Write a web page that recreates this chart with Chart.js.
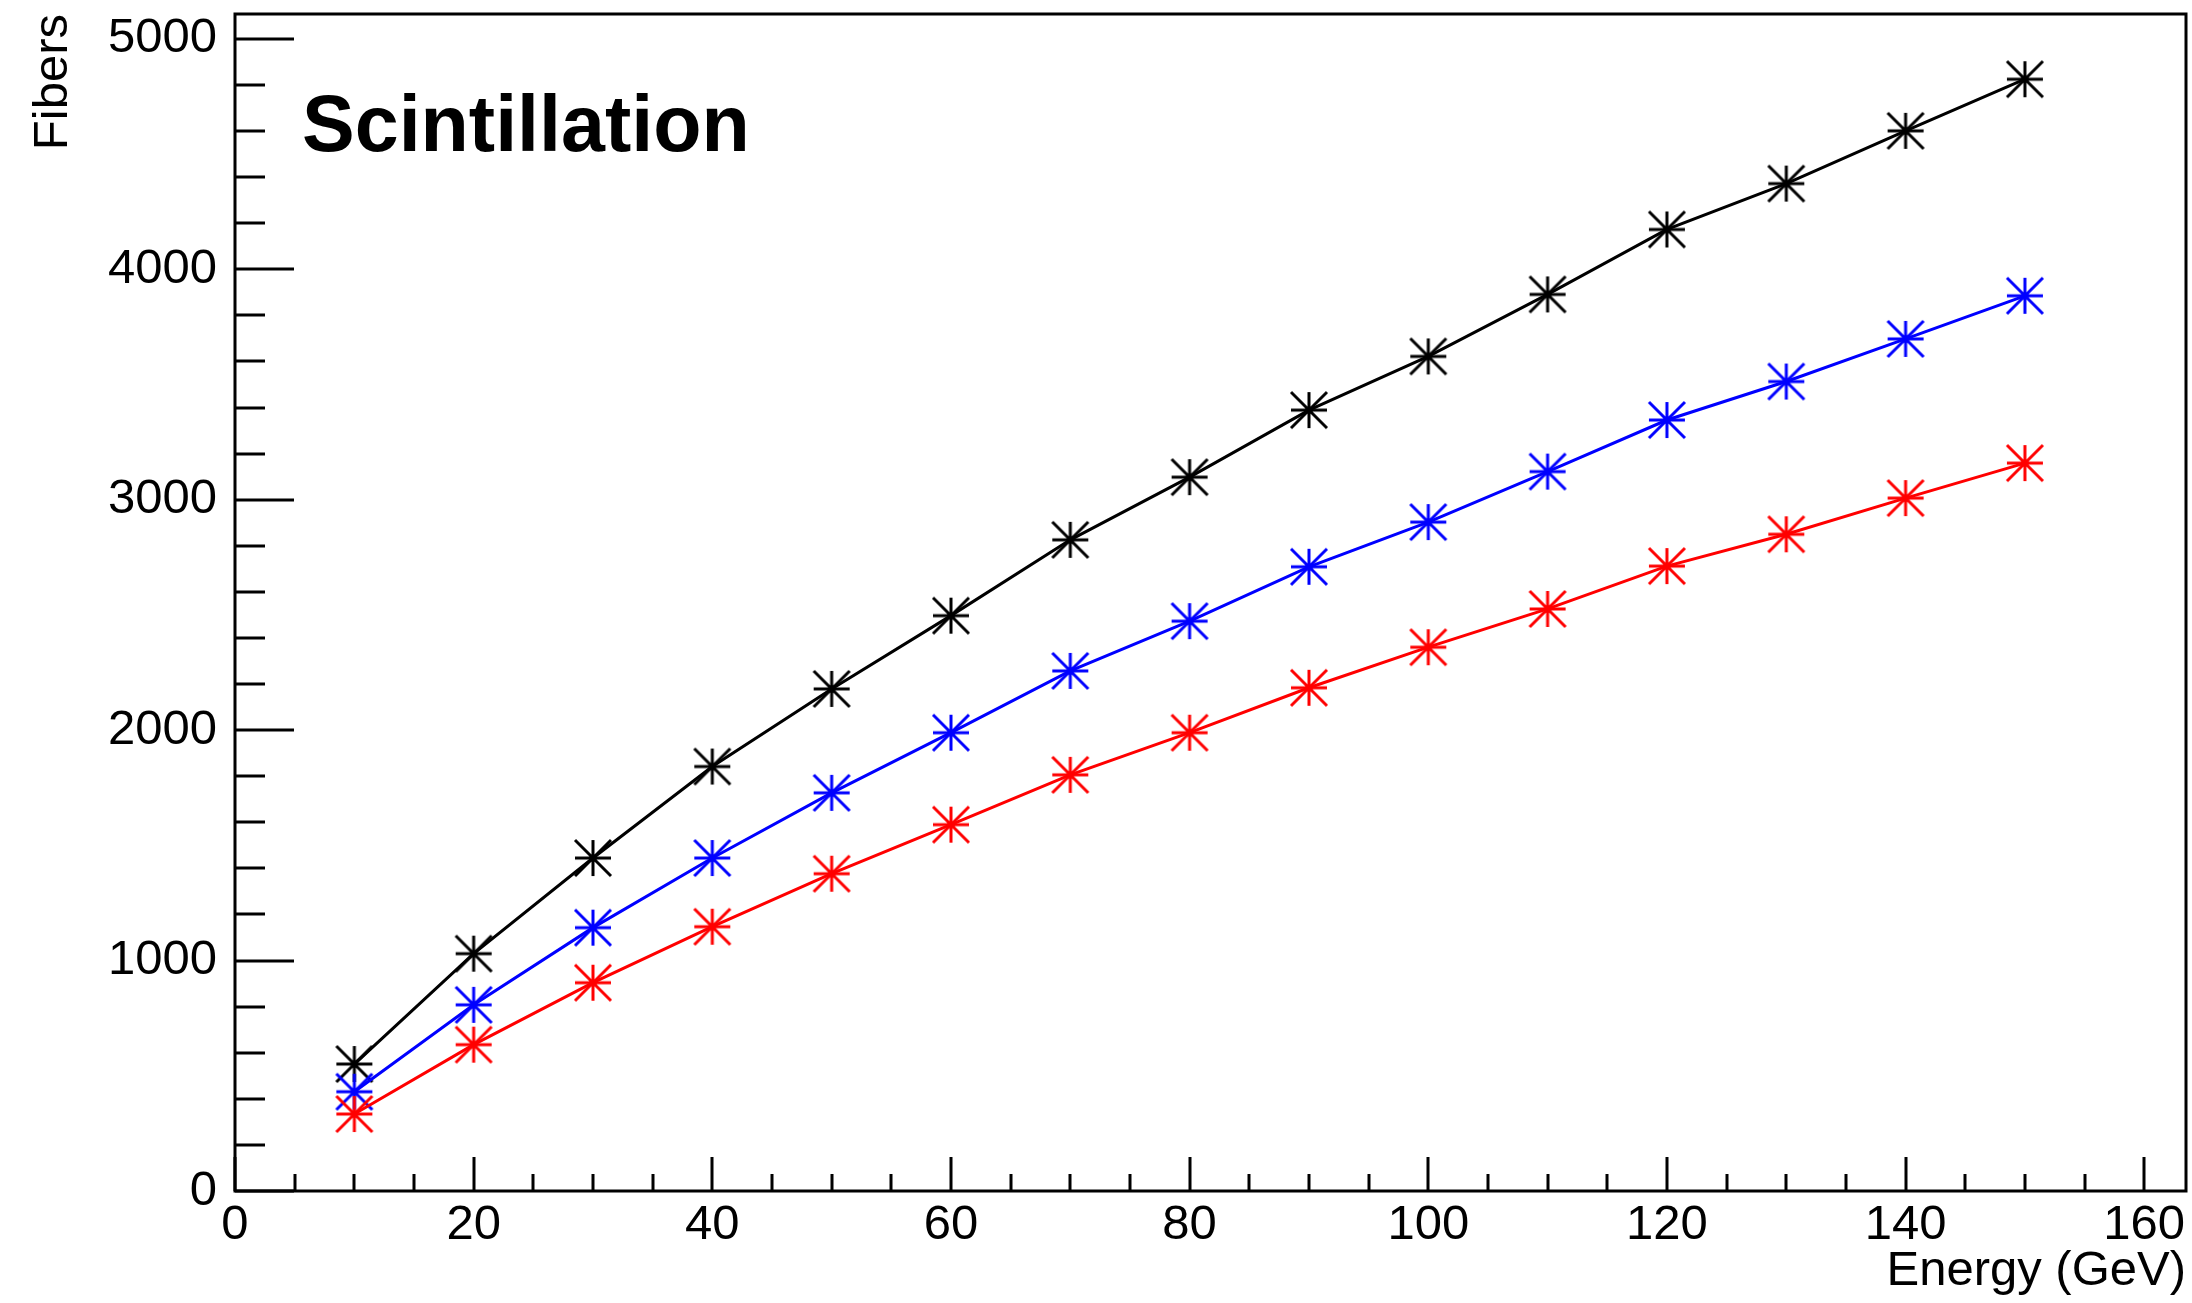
<!DOCTYPE html>
<html>
<head>
<meta charset="utf-8">
<script src="https://cdn.jsdelivr.net/npm/chart.js@4.4.1/dist/chart.umd.min.js"></script>
<style>
  html, body { margin: 0; padding: 0; background: #fff; }
  canvas { display: block; }
</style>
</head>
<body>
<canvas id="graphe" width="2192" height="1303"></canvas>
<script>
const energy = [10, 20, 30, 40, 50, 60, 70, 80, 90, 100, 110, 120, 130, 140, 150];
const fibersBlack = [551, 1030, 1445, 1842, 2179, 2497, 2826, 3098, 3389, 3622, 3891, 4173, 4372, 4601, 4825];
const fibersBlue = [431, 808, 1143, 1445, 1728, 1989, 2257, 2473, 2709, 2903, 3122, 3346, 3513, 3698, 3885];
const fibersRed = [334, 635, 904, 1147, 1377, 1590, 1806, 1989, 2184, 2360, 2526, 2712, 2850, 3007, 3159];

const xLabels = [0, 20, 40, 60, 80, 100, 120, 140, 160];
const yLabels = [0, 1000, 2000, 3000, 4000, 5000];

const xRange = { min: 0, max: 163.5, minor: 5 };
const yRange = { min: 0, max: 5108, minor: 200 };

const FONT = "'Liberation Sans', Arial, Helvetica, sans-serif";

// asterisk marker like ROOT style 3
function asterisk(color) {
  const c = document.createElement("canvas");
  c.width = 40;
  c.height = 40;
  const g = c.getContext("2d");
  g.strokeStyle = color;
  g.lineWidth = 3;
  g.beginPath();
  g.moveTo(2, 20); g.lineTo(38, 20);
  g.moveTo(20, 2); g.lineTo(20, 38);
  g.moveTo(2, 2); g.lineTo(38, 38);
  g.moveTo(38, 2); g.lineTo(2, 38);
  g.stroke();
  return c;
}

function serie(values, color, order) {
  return {
    data: energy.map((e, i) => ({ x: e, y: values[i] })),
    borderColor: color,
    borderWidth: 3,
    pointStyle: asterisk(color),
    pointRadius: 18,
    pointHoverRadius: 18,
    fill: false,
    tension: 0,
    order: order,
  };
}

// frame + inner ticks, ROOT style
const cadre = {
  id: "cadre",
  afterDraw(chart) {
    const { ctx, chartArea: a, scales } = chart;
    const xMajor = xLabels[1] - xLabels[0];
    const yMajor = yLabels[1] - yLabels[0];
    ctx.save();
    ctx.strokeStyle = "#000";
    ctx.lineWidth = 3;
    ctx.beginPath();
    for (let v = xRange.min; v <= xRange.max; v += xRange.minor) {
      const px = Math.round(scales.x.getPixelForValue(v));
      const len = v % xMajor === 0 ? 34 : 17;
      ctx.moveTo(px, a.bottom);
      ctx.lineTo(px, a.bottom - len);
    }
    for (let v = yRange.min; v <= yRange.max; v += yRange.minor) {
      const py = Math.round(scales.y.getPixelForValue(v));
      const len = v % yMajor === 0 ? 59 : 30;
      ctx.moveTo(a.left, py);
      ctx.lineTo(a.left + len, py);
    }
    ctx.stroke();
    ctx.strokeRect(a.left, a.top, a.right - a.left, a.bottom - a.top);

    ctx.fillStyle = "#000";
    ctx.font = "bold 79px " + FONT;
    ctx.textBaseline = "alphabetic";
    ctx.fillText("Scintillation", a.left + 67, a.top + 137);
    ctx.restore();
  },
};

new Chart(document.getElementById("graphe"), {
  type: "line",
  data: {
    datasets: [
      serie(fibersBlack, "#000000", 3),
      serie(fibersBlue, "#0000ff", 2),
      serie(fibersRed, "#ff0000", 1),
    ],
  },
  options: {
    responsive: false,
    animation: false,
    events: [],
    layout: {
      autoPadding: false,
      padding: { top: 14, right: 6, left: 0, bottom: 0 },
    },
    plugins: {
      legend: { display: false },
      tooltip: { enabled: false },
      title: { display: false },
    },
    scales: {
      x: {
        type: "linear",
        min: xRange.min,
        max: xRange.max,
        grid: { display: false, drawTicks: false },
        border: { display: false },
        afterBuildTicks(scale) {
          scale.ticks = xLabels.map((v) => ({ value: v }));
        },
        ticks: {
          padding: 5,
          color: "#000",
          maxRotation: 0,
          autoSkip: false,
          font: { family: FONT, size: 49 },
          callback: (v) => String(v),
        },
        title: {
          display: true,
          text: "Energy (GeV)",
          align: "end",
          color: "#000",
          font: { family: FONT, size: 49 },
          padding: { top: 0, bottom: 2 },
        },
        afterFit(scale) {
          scale.height = 112;
          scale.paddingLeft = 0;
          scale.paddingRight = 0;
        },
      },
      y: {
        type: "linear",
        min: yRange.min,
        max: yRange.max,
        grid: { display: false, drawTicks: false },
        border: { display: false },
        afterBuildTicks(scale) {
          scale.ticks = yLabels.map((v) => ({ value: v }));
        },
        ticks: {
          padding: 18,
          color: "#000",
          autoSkip: false,
          font: { family: FONT, size: 49 },
          callback: (v) => String(v),
        },
        title: {
          display: true,
          text: "Fibers",
          align: "end",
          color: "#000",
          font: { family: FONT, size: 49 },
          padding: { top: 24, bottom: 0 },
        },
        afterFit(scale) {
          scale.width = 235;
          scale.paddingTop = 0;
          scale.paddingBottom = 0;
        },
      },
    },
  },
  plugins: [cadre],
});
</script>
</body>
</html>
